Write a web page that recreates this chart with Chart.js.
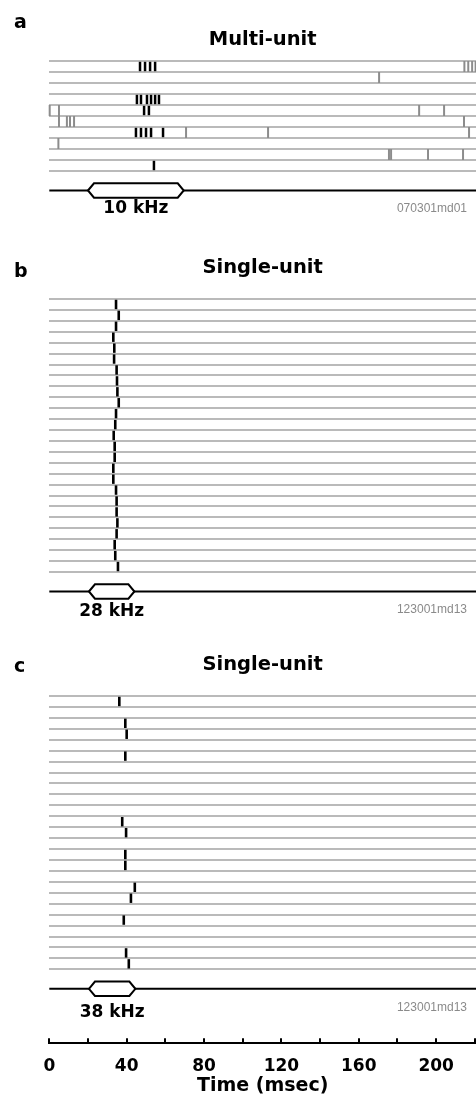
<!DOCTYPE html>
<html>
<head>
<meta charset="utf-8">
<script src="https://cdn.jsdelivr.net/npm/chart.js@4.4.0/dist/chart.umd.min.js"></script>
<style>
html,body{margin:0;padding:0;background:#fff;}
#wrap{position:relative;width:476px;height:1103px;overflow:hidden;background:#fff;}
canvas{position:absolute;left:0;}
</style>
</head>
<body>
<div id="wrap">
<canvas id="cA" width="476" height="230" style="top:0px;width:476px;height:230px"></canvas>
<canvas id="cB" width="476" height="400" style="top:230px;width:476px;height:400px"></canvas>
<canvas id="cC" width="476" height="400" style="top:630px;width:476px;height:400px"></canvas>
<canvas id="cX" width="476" height="73" style="top:1030px;width:476px;height:73px"></canvas>
</div>
<script>
// ---------- data (times in msec, one list per trial) ----------
const timeRange = [0, 220.6];
const axisTickValues = [0, 20, 40, 60, 80, 100, 120, 140, 160, 180, 200, 220];
const axisTickLabels = ['0', '', '40', '', '80', '', '120', '', '160', '', '200', ''];
const axisTitle = 'Time (msec)';

const panelLetters = ['a', 'b', 'c'];
const panelTitles = ['Multi-unit', 'Single-unit', 'Single-unit'];
const stimLabels = ['10 kHz', '28 kHz', '38 kHz'];
const recordingCodes = ['070301md01', '123001md13', '123001md13'];
const stimA = [20, 69.5];
const stimB = [20.5, 44];
const stimC = [20.5, 44.5];

// panel a: multi-unit, evoked (black) and other (gray) spikes per trial
const spikesA_evoked = [
  [46.9, 49.5, 52.1, 54.7],
  [],
  [],
  [45.3, 47.4, 50.5, 52.6, 54.7, 56.7],
  [49.0, 51.5],
  [],
  [44.8, 47.4, 50.0, 52.6, 58.8],
  [],
  [],
  [54.1]
];
const spikesA_other = [
  [214.6, 216.6, 218.6, 220.4],
  [170.5],
  [],
  [],
  [0.2, 5.0, 191.2, 204.1],
  [5.0, 9.1, 10.7, 12.8, 214.4],
  [70.7, 113.1, 217.0],
  [4.7],
  [175.6, 176.7, 195.8, 213.9],
  []
];
// panel b: single unit, 25 trials
const spikesB = [
  [34.5], [35.9], [34.5], [33.1], [33.6], [33.5], [34.8], [35.0], [35.2], [35.9],
  [34.5], [34.1], [33.3], [33.8], [33.8], [33.1], [33.1], [34.5], [34.8], [34.8],
  [35.2], [34.8], [33.8], [34.1], [35.5]
];
// panel c: single unit, 25 trials
const spikesC = [
  [36.2], [], [39.3], [40.0], [], [39.3], [], [], [], [],
  [], [37.7], [39.7], [], [39.3], [39.3], [], [44.2], [42.2], [],
  [38.5], [], [], [39.7], [41.1]
];

// ---------- helpers ----------
function toPoints(trains) {
  const pts = [];
  trains.forEach((tr, i) => tr.forEach(t => pts.push({ x: t, y: i + 0.5 })));
  return pts;
}

const BOLD = '"DejaVu Sans", sans-serif';
Chart.defaults.font.family = BOLD;
Chart.defaults.color = '#000';

const stimPlugin = {
  id: 'stim',
  afterDraw(chart, args, o) {
    const { ctx, chartArea, scales } = chart;
    const x = scales.x;
    const y0 = chartArea.bottom + o.gap;
    ctx.save();
    // stimulus baseline
    ctx.strokeStyle = '#000';
    ctx.lineWidth = 2;
    ctx.beginPath();
    ctx.moveTo(x.getPixelForValue(timeRange[0]), y0);
    ctx.lineTo(chart.width, y0);
    ctx.stroke();
    // stimulus envelope (hexagon)
    const xs = x.getPixelForValue(o.start), xe = x.getPixelForValue(o.end);
    const h = 7.2, s = 6;
    ctx.beginPath();
    ctx.moveTo(xs, y0);
    ctx.lineTo(xs + s, y0 - h);
    ctx.lineTo(xe - s, y0 - h);
    ctx.lineTo(xe, y0);
    ctx.lineTo(xe - s, y0 + h);
    ctx.lineTo(xs + s, y0 + h);
    ctx.closePath();
    ctx.fillStyle = '#fff';
    ctx.fill();
    ctx.lineJoin = 'miter';
    ctx.stroke();
    // stimulus label
    ctx.fillStyle = '#000';
    ctx.font = 'bold 17px ' + BOLD;
    ctx.textAlign = 'center';
    ctx.textBaseline = 'middle';
    ctx.fillText(o.label, (xs + xe) / 2, y0 + o.labelDy);
    // recording code
    ctx.fillStyle = '#8a8a8a';
    ctx.font = '12px "Liberation Sans", Arial, sans-serif';
    ctx.textAlign = 'right';
    ctx.fillText(o.code, 467, y0 + 18.5);
    // panel letter
    ctx.fillStyle = '#000';
    ctx.font = 'bold 19px ' + BOLD;
    ctx.textAlign = 'left';
    ctx.textBaseline = 'alphabetic';
    ctx.fillText(o.letter, 14, o.letterY);
    ctx.restore();
  }
};

function panelChart(id, idx, nTrials, datasets, stim, titlePad, padBottom, letterY, labelDy) {
  return new Chart(document.getElementById(id), {
    type: 'scatter',
    data: { datasets },
    plugins: [stimPlugin],
    options: {
      responsive: false,
      animation: false,
      events: [],
      layout: { autoPadding: false, padding: { left: 49.3, right: 0, top: 0, bottom: padBottom } },
      scales: {
        x: { type: 'linear', min: timeRange[0], max: timeRange[1], display: false },
        y: {
          type: 'linear', min: 0, max: nTrials, reverse: true,
          ticks: { display: false, stepSize: 1, maxTicksLimit: 200 },
          border: { display: false },
          grid: { color: '#bababa', lineWidth: 2, drawTicks: false }
        }
      },
      plugins: {
        legend: { display: false },
        tooltip: { enabled: false },
        title: {
          display: true, text: panelTitles[idx],
          font: { family: BOLD, size: 19.5, weight: 'bold', lineHeight: 1.2 },
          color: '#000',
          padding: titlePad
        },
        stim: {
          start: stim[0], end: stim[1], label: stimLabels[idx], code: recordingCodes[idx],
          letter: panelLetters[idx], letterY: letterY, gap: 19.5, labelDy: labelDy
        }
      }
    }
  });
}

function spikeSet(points, color, width, radius) {
  return {
    data: points, pointStyle: 'line', rotation: 90,
    pointRadius: radius, pointBorderWidth: width,
    borderColor: color, backgroundColor: color, showLine: false, clip: false
  };
}

panelChart('cA', 0, spikesA_evoked.length, [
  spikeSet(toPoints(spikesA_other), '#8c8c8c', 2, 5.5),
  spikeSet(toPoints(spikesA_evoked), '#000', 2.5, 4.7)
], stimA, { top: 27.8, bottom: 9.8 }, 59, 28, 18);

panelChart('cB', 1, spikesB.length, [
  spikeSet(toPoints(spikesB), '#000', 2.6, 4.7)
], stimB, { top: 26.3, bottom: 19.3 }, 58, 47, 20);

panelChart('cC', 2, spikesC.length, [
  spikeSet(toPoints(spikesC), '#000', 2.6, 4.7)
], stimC, { top: 23.3, bottom: 19.3 }, 60.7, 42, 24);

// shared time axis (the 5px-tall chart area's grid lines form the upward tick marks)
new Chart(document.getElementById('cX'), {
  type: 'scatter',
  data: { datasets: [] },
  options: {
    responsive: false,
    animation: false,
    events: [],
    layout: { autoPadding: false, padding: { left: 49.3, right: 0, top: 8.3, bottom: 0 } },
    scales: {
      x: {
        type: 'linear', position: 'bottom', min: timeRange[0], max: timeRange[1],
        afterBuildTicks: (scale) => { scale.ticks = axisTickValues.map(v => ({ value: v })); },
        afterFit: (scale) => { scale.height = 59.7; },
        ticks: {
          autoSkip: false, maxRotation: 0, padding: 0,
          font: { family: BOLD, size: 17, weight: 'bold', lineHeight: 1.2 },
          color: '#000',
          callback: (v) => { const i = axisTickValues.indexOf(v); return i >= 0 ? axisTickLabels[i] : ''; }
        },
        border: { display: true, color: '#000', width: 2 },
        grid: { display: true, drawOnChartArea: true, drawTicks: true, tickLength: 13.5,
                tickColor: 'rgba(0,0,0,0)', color: '#000', lineWidth: 2 },
        title: {
          display: true, text: axisTitle, color: '#000',
          font: { family: BOLD, size: 19, weight: 'bold', lineHeight: 1.2 },
          padding: { top: 0, bottom: 5.4 }
        }
      },
      y: { display: false, min: 0, max: 1 }
    },
    plugins: { legend: { display: false }, tooltip: { enabled: false } }
  }
});
</script>
</body>
</html>
